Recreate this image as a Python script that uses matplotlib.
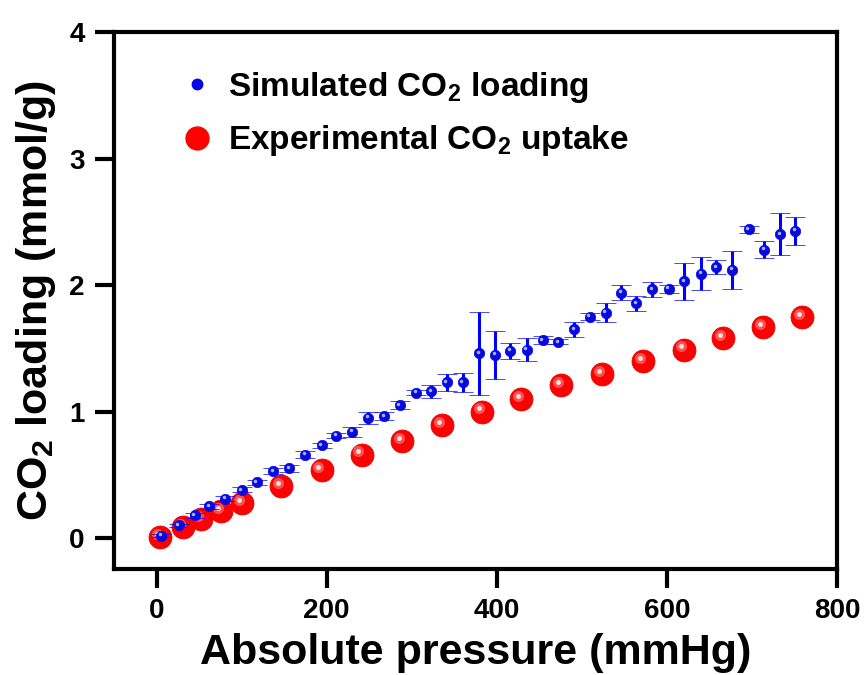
import matplotlib
matplotlib.use("Agg")
import matplotlib.pyplot as plt
from matplotlib.lines import Line2D
from matplotlib.transforms import ScaledTranslation
import numpy as np

plt.rcParams['font.family'] = ['Liberation Sans', 'DejaVu Sans']
plt.rcParams['mathtext.fontset'] = 'custom'
plt.rcParams['mathtext.rm'] = 'Liberation Sans'
plt.rcParams['mathtext.bf'] = 'Liberation Sans:bold'

# Simulated CO2 loading
sim_p = [5.5, 26, 45, 62, 81, 100, 118, 137, 156, 175, 194, 211, 230, 249, 268,
         286, 305, 323, 341, 360, 379, 398, 416, 435, 454, 472, 491, 509, 528,
         546, 564, 583, 602, 620, 640, 658, 677, 696, 714, 733, 751]
sim_q = [0.02, 0.10, 0.18, 0.25, 0.31, 0.38, 0.44, 0.53, 0.55, 0.66, 0.735, 0.81,
         0.84, 0.95, 0.965, 1.05, 1.15, 1.16, 1.23, 1.23, 1.46, 1.45, 1.48, 1.49,
         1.565, 1.55, 1.65, 1.75, 1.78, 1.94, 1.855, 1.965, 1.97, 2.03, 2.09,
         2.14, 2.12, 2.44, 2.28, 2.40, 2.43]
sim_err = [0.01, 0.01, 0.02, 0.02, 0.02, 0.02, 0.02, 0.02, 0.03, 0.03, 0.02, 0.02,
           0.04, 0.05, 0.03, 0.03, 0.02, 0.05, 0.07, 0.075, 0.33, 0.19, 0.065,
           0.09, 0.03, 0.02, 0.058, 0.03, 0.076, 0.06, 0.062, 0.062, 0.03, 0.145,
           0.13, 0.055, 0.15, 0.03, 0.066, 0.166, 0.11]

# Experimental CO2 uptake
exp_p = [4, 31, 52, 76, 100, 146, 194, 241, 289, 336, 383, 429, 476, 524, 572,
         620, 666, 713, 759]
exp_q = [0.01, 0.09, 0.15, 0.21, 0.28, 0.41, 0.54, 0.66, 0.77, 0.89, 1.00, 1.10,
         1.21, 1.30, 1.40, 1.49, 1.58, 1.67, 1.75]

x_ticks = [0, 200, 400, 600, 800]
y_ticks = [0, 1, 2, 3, 4]

fig = plt.figure(figsize=(8.66, 6.75), dpi=100)
ax = fig.add_axes([0.1316, 0.157, 0.835, 0.7956])

hl = ScaledTranslation(-2.2 / 72, 2.2 / 72, fig.dpi_scale_trans)
hl_small = ScaledTranslation(-1 / 72, 1 / 72, fig.dpi_scale_trans)

# experimental spheres
ax.plot(exp_p, exp_q, 'o', ms=16.5, color='#ff0000', mec='#e80000', mew=0.6, zorder=2)
ax.plot(exp_p, exp_q, 'o', ms=8, color='#ff5050', mew=0, zorder=2.1,
        transform=ax.transData + hl)
ax.plot(exp_p, exp_q, 'o', ms=3.5, color='#ffe0e0', mew=0, zorder=2.2,
        transform=ax.transData + hl)

# simulated with error bars
ax.errorbar(sim_p, sim_q, yerr=sim_err, fmt='o', ms=7.5, color='#0000ff',
            mfc='#0a0ad8', mec='#0000ff', mew=0.5, ecolor='#0000ff', elinewidth=2.2,
            capsize=7.5, capthick=2.4, zorder=3)
ax.plot(sim_p, sim_q, 'o', ms=2.5, color='#9fb5ff', mew=0, zorder=3.2,
        transform=ax.transData + hl_small)

ax.set_xlim(-50, 800)
ax.set_ylim(-0.245, 4)
ax.set_xticks(x_ticks)
ax.set_yticks(y_ticks)
ax.set_xticklabels([str(v) for v in x_ticks])
ax.set_yticklabels([str(v) for v in y_ticks])

for s in ax.spines.values():
    s.set_linewidth(3)
ax.tick_params(axis='both', direction='out', length=14, width=3, labelsize=20, pad=7)
for lab in ax.get_xticklabels() + ax.get_yticklabels():
    lab.set_fontweight('bold')

ax.set_xlabel('Absolute pressure (mmHg)', fontsize=31, fontweight='bold', labelpad=6)
ax.set_ylabel(r'CO$_\mathbf{2}$ loading (mmol/g)', fontsize=31, fontweight='bold', labelpad=8)

handles = [
    Line2D([], [], ls='none', marker='o', ms=7.5, color='#0a0ad8', mec='#0000ff'),
    Line2D([], [], ls='none', marker='o', ms=16.5, color='#ff0000'),
]
labels = [r'Simulated CO$_\mathbf{2}$ loading', r'Experimental CO$_\mathbf{2}$ uptake']
leg = ax.legend(handles, labels, loc='upper left', bbox_to_anchor=(0.052, 0.985),
                frameon=False, prop={'size': 24, 'weight': 'bold'},
                handletextpad=0.5, labelspacing=0.55, handlelength=0.9)

fig.savefig('out.png', dpi=100)
